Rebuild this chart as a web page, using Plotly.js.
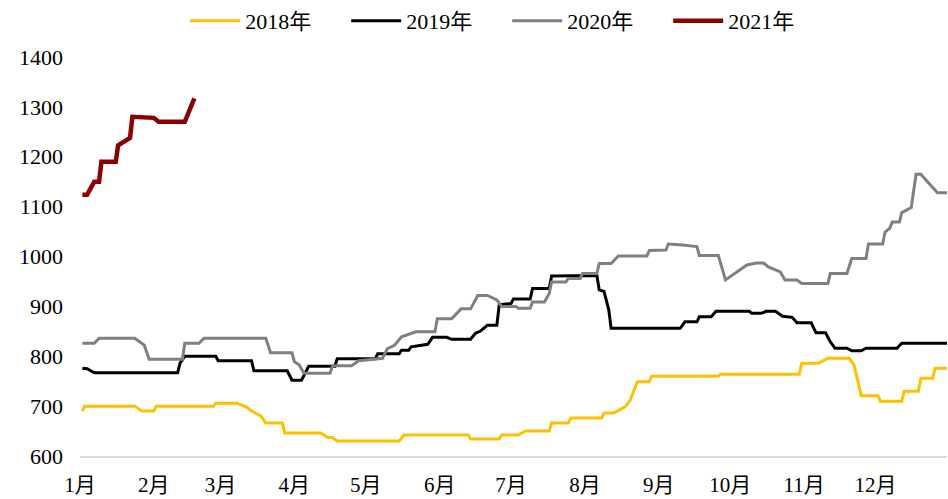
<!DOCTYPE html>
<html>
<head>
<meta charset="utf-8">
<script src="https://cdn.plot.ly/plotly-3.0.1.min.js"></script>
<style>
  html, body { margin: 0; padding: 0; background: #fff; }
  #chart { width: 948px; height: 499px; }
</style>
</head>
<body>
<div id="chart"></div>
<script>
// all years drawn on one common calendar (month-day)
const YEAR = "2021-";

const dates2018 = ["01-02","01-03","01-24","01-27","02-01","02-02","02-26","02-27","03-08","03-12",
  "03-14","03-18","03-20","03-27","03-28","04-12","04-15","04-17","04-19","05-15","05-17","06-13",
  "06-14","06-26","06-27","07-04","07-07","07-17","07-18","07-25","07-26","08-08","08-09","08-13",
  "08-15","08-18","08-20","08-23","08-28","08-29","09-26","09-27","10-30","10-31","11-07","11-11",
  "11-20","11-22","11-25","12-02","12-03","12-12","12-13","12-19","12-20","12-25","12-26","12-31"];
const values2018 = [690,700,700,690,690,700,700,706,706,698,
  690,680,666,666,646,646,637,637,630,630,642,642,
  634,634,642,642,650,650,666,666,676,676,686,686,
  691,699,712,749,749,760,760,764,764,786,786,796,
  796,782,721,721,710,710,730,730,756,756,776,776];

const dates2019 = ["01-02","01-04","01-07","02-11","02-12","02-14","02-27","02-28","03-14","03-15",
  "03-29","03-31","04-04","04-07","04-18","04-19","05-05","05-06","05-15","05-16","05-19","05-20",
  "05-27","05-29","06-04","06-06","06-14","06-16","06-18","06-21","06-25","06-26","07-01","07-02",
  "07-09","07-10","07-17","07-18","08-06","08-07","08-09","08-11","08-12","09-10","09-12","09-17",
  "09-18","09-23","09-25","10-09","10-10","10-14","10-16","10-20","10-23","10-27","10-29","11-04",
  "11-06","11-10","11-12","11-14","11-19","11-21","11-25","11-27","12-10","12-12","12-31"];
const values2019 = [776,775,767,767,786,800,800,791,791,771,
  771,752,752,780,780,795,795,805,805,812,812,819,
  824,838,838,834,834,846,850,862,862,903,906,915,
  915,936,936,961,962,933,930,893,856,856,869,869,
  879,879,890,890,886,886,890,890,880,878,867,867,
  847,847,829,816,816,811,811,816,816,826,826];

const dates2020 = ["01-02","01-07","01-09","01-24","01-26","01-28","01-30","02-13","02-14","02-20",
  "02-22","03-20","03-22","03-31","04-01","04-03","04-05","04-16","04-17","04-25","04-28","05-08",
  "05-10","05-13","05-16","05-22","05-30","05-31","06-06","06-10","06-14","06-17","06-21","06-25",
  "06-27","07-03","07-04","07-09","07-10","07-15","07-17","07-18","07-24","07-25","07-30","07-31",
  "08-06","08-07","08-12","08-15","08-27","08-28","09-04","09-05","09-11","09-17","09-18","09-26",
  "09-29","10-08","10-10","10-12","10-15","10-17","10-22","10-24","10-29","10-31","11-11","11-12",
  "11-19","11-21","11-27","11-28","12-04","12-05","12-07","12-08","12-11","12-12","12-16","12-18",
  "12-20","12-23","12-27","12-31"];
const values2020 = [826,826,836,836,829,822,794,794,826,826,
  836,836,807,807,789,783,766,766,781,781,791,796,
  815,822,839,849,849,875,875,895,895,922,922,913,
  900,900,896,896,909,909,926,949,949,956,956,966,
  966,986,986,1001,1001,1012,1013,1025,1023,1020,1002,1002,
  953,983,985,987,987,979,969,953,953,946,946,966,
  966,996,996,1025,1025,1049,1057,1069,1069,1088,1098,1165,
  1165,1150,1128,1128];

const dates2021 = ["01-02","01-04","01-07","01-09","01-10","01-16","01-17","01-20","01-22","01-23",
  "01-30","02-01","02-03","02-14","02-18"];
const values2021 = [1124,1124,1150,1150,1190,1190,1223,1233,1238,1280,
  1280,1278,1270,1270,1317];

const monthStarts = ["01-01","02-01","03-01","04-01","05-01","06-01","07-01","08-01","09-01","10-01","11-01","12-01"];
const monthLabels = ["1月","2月","3月","4月","5月","6月","7月","8月","9月","10月","11月","12月"];

const yTicks = [600,700,800,900,1000,1100,1200,1300,1400];

function series(name, dates, values, color, width) {
  return {
    x: dates.map(d => YEAR + d),
    y: values,
    name: name,
    type: "scatter",
    mode: "lines",
    line: { color: color, width: width },
    hoverinfo: "skip"
  };
}

const traces = [
  series("2018年", dates2018, values2018, "#FFC000", 3),
  series("2019年", dates2019, values2019, "#000000", 3),
  series("2020年", dates2020, values2020, "#808080", 3),
  series("2021年", dates2021, values2021, "#8B0000", 4.5)
];

const layout = {
  width: 948,
  height: 499,
  margin: { l: 80, r: 1, t: 57, b: 43, autoexpand: false },
  paper_bgcolor: "#ffffff",
  plot_bgcolor: "#ffffff",
  font: { family: "'Liberation Serif', 'Noto Sans CJK SC', serif", size: 22, color: "#000" },
  showlegend: true,
  legend: {
    orientation: "h",
    xref: "container",
    yref: "container",
    x: 0.535,
    xanchor: "center",
    y: 1.0,
    yanchor: "top",
    entrywidth: 96,
    font: { size: 22 },
    itemwidth: 50
  },
  xaxis: {
    type: "date",
    range: [YEAR + "01-01", YEAR + "12-31"],
    tickmode: "array",
    tickvals: monthStarts.map(d => YEAR + d),
    ticktext: monthLabels,
    tickfont: { size: 21 },
    showgrid: false,
    zeroline: false,
    showline: true,
    linecolor: "#d9d9d9",
    linewidth: 1.5,
    ticks: "",
    ticklabelstandoff: 9
  },
  yaxis: {
    range: [600, 1400],
    tickmode: "array",
    tickvals: yTicks,
    ticktext: yTicks.map(String),
    showgrid: false,
    zeroline: false,
    showline: false,
    ticks: "",
    ticklabelstandoff: 16
  }
};

Plotly.newPlot("chart", traces, layout, { displayModeBar: false, staticPlot: true });
</script>
</body>
</html>
